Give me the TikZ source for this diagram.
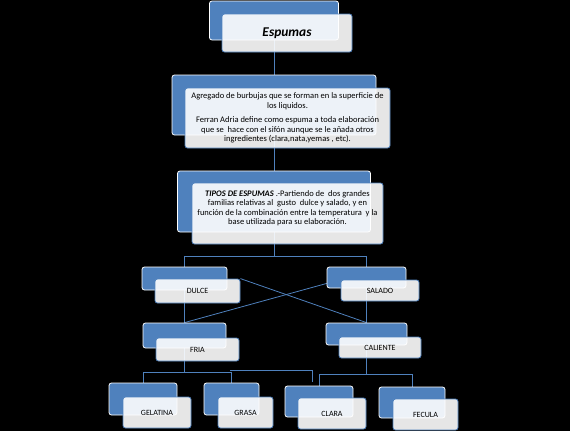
\documentclass[tikz,border=0pt]{standalone}
\usepackage{fontspec}
\setmainfont{Carlito}
\usetikzlibrary{backgrounds}
\definecolor{officeblue}{HTML}{4F81BD}

\begin{document}
\begin{tikzpicture}[
  x=1pt, y=-1pt,
  backbox/.style={
    draw=white,
    line width=0.8pt,
    fill=officeblue,
    rounded corners=2.5pt,
    inner sep=0pt
  },
  frontbox/.style={
    draw=officeblue,
    line width=0.8pt,
    fill=white,
    fill opacity=0.9,
    text opacity=1,
    rounded corners=2.5pt,
    inner sep=2pt,
    align=center,
    font=\fontsize{8.5}{9.5}\selectfont
  },
  tag/.style={font=\fontsize{8}{9}\selectfont},
  link/.style={draw=officeblue, line width=0.8pt}
]
  \useasboundingbox (0,0) rectangle (570,431);

  % top boxes
  \node[backbox, minimum width=129pt, minimum height=39pt] (espB) at (274,20.5) {};
  \node[frontbox, minimum width=130pt, minimum height=38pt, font=\fontsize{13.4}{15}\selectfont\bfseries\itshape] (espF) at (287,33) {Espumas};

  \node[backbox, minimum width=204pt, minimum height=60pt] (defB) at (274,105) {};
  \node[frontbox, minimum width=205pt, minimum height=60pt] (defF) at (287.5,118) {Agregado de burbujas que se forman en la superficie de\\los liquidos.\\[5pt]Ferran Adria define como espuma a toda elaboración\\que se\ \ hace con el sifón aunque se le añada otros\\ingredientes (clara,nata,yemas , etc).};

  \node[backbox, minimum width=193pt, minimum height=61pt] (tipB) at (274,201.5) {};
  \node[frontbox, minimum width=191pt, minimum height=61pt] (tipF) at (287.5,213.5) {\textbf{\textit{TIPOS DE ESPUMAS}} .-Partiendo de\ \ dos grandes\\familias relativas al\ \ gusto\ \ dulce y salado, y en\\función de la combinación entre la temperatura\ \ y la\\base utilizada para su elaboración.\\[2pt]};

  % sabor
  \node[backbox, minimum width=85pt, minimum height=23pt] (dulceB) at (184.5,278.5) {};
  \node[frontbox, tag, minimum width=85pt, minimum height=24pt] (dulceF) at (197.5,291) {DULCE};

  \node[backbox, minimum width=79pt, minimum height=21pt] (saladoB) at (366.5,277.5) {};
  \node[frontbox, tag, minimum width=78pt, minimum height=21pt] (saladoF) at (380,290.5) {SALADO};

  % temperatura
  \node[backbox, minimum width=83pt, minimum height=25pt] (friaB) at (184.5,335.5) {};
  \node[frontbox, tag, minimum width=83pt, minimum height=23pt] (friaF) at (197.5,349.5) {FRIA};

  \node[backbox, minimum width=81pt, minimum height=22pt] (calB) at (366.5,334) {};
  \node[frontbox, tag, minimum width=82pt, minimum height=21pt] (calF) at (380,347.5) {CALIENTE};

  % base
  \node[backbox, minimum width=68pt, minimum height=32pt] (gelB) at (143,399) {};
  \node[frontbox, tag, minimum width=68pt, minimum height=31pt] (gelF) at (157,412.5) {GELATINA};

  \node[backbox, minimum width=55pt, minimum height=32pt] (grasaB) at (231.5,399) {};
  \node[frontbox, tag, minimum width=55pt, minimum height=31pt] (grasaF) at (245.5,412.5) {GRASA};

  \node[backbox, minimum width=68pt, minimum height=31pt] (claraB) at (319,401.5) {};
  \node[frontbox, tag, minimum width=68pt, minimum height=31pt] (claraF) at (332,413.5) {CLARA};

  \node[backbox, minimum width=66pt, minimum height=31pt] (fecB) at (412,402.5) {};
  \node[frontbox, tag, minimum width=65pt, minimum height=31pt] (fecF) at (425.5,414.5) {FECULA};

  \coordinate (split1) at (274,256);
  \coordinate (split2) at (184.5,372);
  \coordinate (split3) at (366.5,374);
  \coordinate (stubA) at (230,370);
  \coordinate (stubB) at (312,382);

  \begin{scope}[on background layer]
    \fill[black] (0,0) rectangle (570,431);
    \draw[link] (espB.south) -- (defB.north);
    \draw[link] (defB.south) -- (tipB.north);
    \draw[link] (tipB.south) -- (split1) -| (dulceB.north);
    \draw[link] (split1) -| (saladoB.north);
    \draw[link] (dulceB.south) -- (friaB.north);
    \draw[link] (saladoB.south) -- (calB.north);
    \draw[link] (dulceF.north east) -- (calB.north);
    \draw[link] (saladoF.north west) -- (friaB.north);
    \draw[link] (friaB.south) -- (split2) -| (gelB.north);
    \draw[link] (split2) -| (grasaB.north);
    \draw[link] (stubA) -| (stubB);
    \draw[link] (calB.south) -- (split3) -| (claraB.north);
    \draw[link] (split3) -| (fecB.north);
  \end{scope}
\end{tikzpicture}
\end{document}
